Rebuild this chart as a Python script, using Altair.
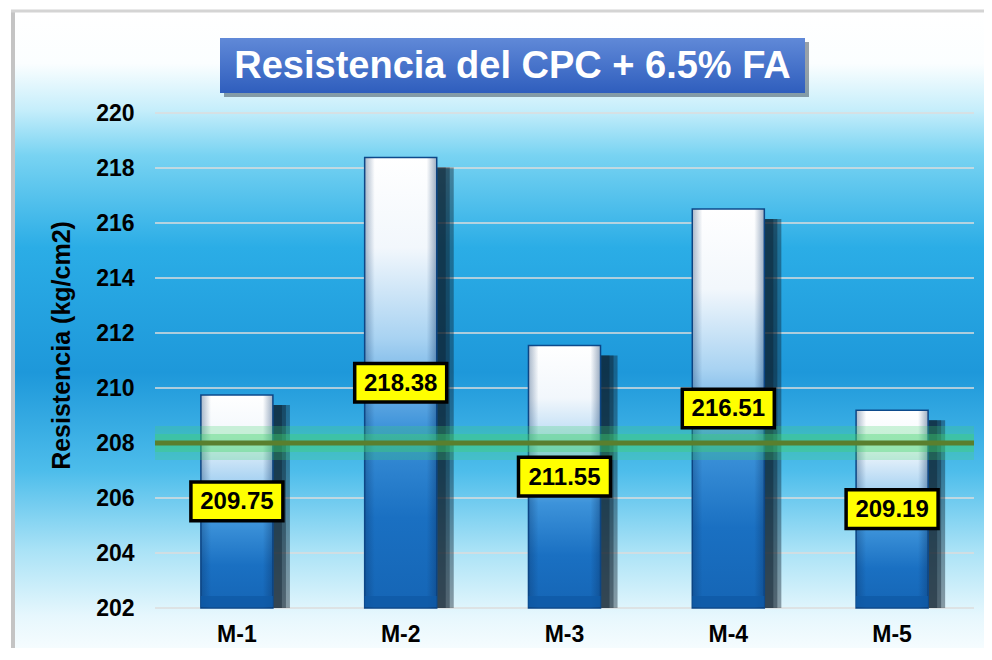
import altair as alt
import pandas as pd

# ---- data ----
categories = ["M-1", "M-2", "M-3", "M-4", "M-5"]
values = [209.75, 218.38, 211.55, 216.51, 209.19]
y_ticks = [202, 204, 206, 208, 210, 212, 214, 216, 218, 220]
reference_value = 208
y_min, y_max = 202, 220
chart_title = "Resistencia del CPC + 6.5% FA"
y_title = "Resistencia (kg/cm2)"

W, H = 819, 495
FONT = "Liberation Sans"

df = pd.DataFrame({"cat": categories, "val": values, "base": [y_min] * len(values)})
df["label"] = [f"{v:.2f}" for v in values]
grid_df = pd.DataFrame({"tick": y_ticks})
ref_df = pd.DataFrame({"ref": [reference_value]})
one = pd.DataFrame({"k": [0]})

yscale = alt.Scale(domain=[y_min, y_max], zero=False, nice=False)
yaxis = alt.Axis(
    values=y_ticks, grid=False, domain=False, ticks=False, zindex=2,
    labelFont=FONT, labelFontSize=23, labelFontWeight="bold", labelColor="#000000",
    labelPadding=21, title=y_title, titleFont=FONT, titleFontSize=25,
    titleFontWeight="bold", titleColor="#000000", titleX=-94, titleY=232,
    titleAngle=270, titleAlign="center", titleBaseline="middle",
)
xscale = alt.Scale(paddingInner=0.56, paddingOuter=0.28)
xaxis = alt.Axis(
    labelAngle=0, domain=False, ticks=False, title=None, labelFont=FONT, zindex=2,
    labelFontSize=23, labelFontWeight="bold", labelColor="#000000", labelPadding=15,
)

X = alt.X("cat:N", sort=categories, scale=xscale, axis=xaxis)

# background panel
bg_grad = {
    "gradient": "linear", "x1": 0, "y1": 0, "x2": 0, "y2": 1,
    "stops": [
        {"offset": 0.0, "color": "#ffffff"},
        {"offset": 0.08, "color": "#fbfeff"},
        {"offset": 0.15, "color": "#c6eefb"},
        {"offset": 0.22, "color": "#78d3f2"},
        {"offset": 0.36, "color": "#2bade6"},
        {"offset": 0.55, "color": "#1e98da"},
        {"offset": 0.70, "color": "#4dbdeb"},
        {"offset": 0.82, "color": "#a9e2f6"},
        {"offset": 0.92, "color": "#e6f7fd"},
        {"offset": 1.0, "color": "#ffffff"},
    ],
}
background = alt.Chart(one).mark_rect(fill=bg_grad).encode(
    x=alt.value(-143), x2=alt.value(W + 20), y=alt.value(-102), y2=alt.value(H + 60)
)
frame_left = alt.Chart(one).mark_rule(color="#c4c4c4", strokeWidth=4).encode(
    x=alt.value(-142), y=alt.value(-102), y2=alt.value(H + 60)
)
frame_top = alt.Chart(one).mark_rule(color="#d4d4d4", strokeWidth=3).encode(
    x=alt.value(-144), x2=alt.value(W + 20), y=alt.value(-102)
)

grid = alt.Chart(grid_df).mark_rule(color="#dcdcdc", strokeWidth=1.5).encode(
    y=alt.Y("tick:Q", scale=yscale, axis=yaxis)
)

# bar shadows
shadows = [
    alt.Chart(df).mark_bar(color="#0b1d2c", opacity=0.42, xOffset=off, yOffset=10, y2Offset=0).encode(
        x=X, y=alt.Y("val:Q", scale=yscale, axis=yaxis), y2="base:Q"
    )
    for off in (9, 13, 17)
]

bar_grad = {
    "gradient": "linear", "x1": 0, "y1": 0, "x2": 0, "y2": 1,
    "stops": [
        {"offset": 0.0, "color": "#ffffff"},
        {"offset": 0.2, "color": "#f2f7fc"},
        {"offset": 0.4, "color": "#a9d3f2"},
        {"offset": 0.6, "color": "#3d93da"},
        {"offset": 0.8, "color": "#1a70c2"},
        {"offset": 1.0, "color": "#1565b5"},
    ],
}
bars = alt.Chart(df).mark_bar(fill=bar_grad, stroke="#0d4a8c", strokeWidth=1.5).encode(
    x=X, y=alt.Y("val:Q", scale=yscale, axis=yaxis), y2="base:Q"
)
side_grad = {
    "gradient": "linear", "x1": 0, "y1": 0, "x2": 1, "y2": 0,
    "stops": [
        {"offset": 0.0, "color": "rgba(10,50,100,0.35)"},
        {"offset": 0.14, "color": "rgba(10,50,100,0)"},
        {"offset": 0.86, "color": "rgba(10,50,100,0)"},
        {"offset": 1.0, "color": "rgba(10,50,100,0.4)"},
    ],
}
bar_sides = alt.Chart(df).mark_bar(fill=side_grad).encode(
    x=X, y=alt.Y("val:Q", scale=yscale, axis=yaxis), y2="base:Q"
)
bar_bottom = alt.Chart(df).mark_bar(color="#0f5aa6", opacity=0.8, yOffset=-12, y2Offset=-1).encode(
    x=X, y=alt.Y("base:Q", scale=yscale, axis=yaxis), y2="base:Q"
)

glow1 = alt.Chart(ref_df).mark_rule(color="#3fd46a", strokeWidth=34, opacity=0.25).encode(
    y=alt.Y("ref:Q", scale=yscale, axis=yaxis)
)
glow2 = alt.Chart(ref_df).mark_rule(color="#3fd46a", strokeWidth=18, opacity=0.35).encode(
    y=alt.Y("ref:Q", scale=yscale, axis=yaxis)
)
ref_line = alt.Chart(ref_df).mark_rule(color="#5a7f2e", strokeWidth=5).encode(
    y=alt.Y("ref:Q", scale=yscale, axis=yaxis)
)

lab_base = alt.Chart(df).transform_calculate(mid="(datum.val + datum.base) / 2")
boxes = lab_base.mark_point(
    shape="M-1,-0.42L1,-0.42L1,0.42L-1,0.42Z", size=92 * 92, filled=True,
    fill="#ffff00", stroke="#000000", strokeWidth=3.5, opacity=1,
).encode(x=X, y=alt.Y("mid:Q", scale=yscale, axis=yaxis))
label_text = lab_base.mark_text(
    font=FONT, fontSize=24, fontWeight="bold", color="#000000", baseline="middle", dy=1
).encode(x=X, y=alt.Y("mid:Q", scale=yscale, axis=yaxis), text="label:N")

# title box
title_box_shadow = alt.Chart(one).mark_rect(color="#203040", opacity=0.45).encode(
    x=alt.value(69), x2=alt.value(654), y=alt.value(-71), y2=alt.value(-16)
)
title_grad = {
    "gradient": "linear", "x1": 0, "y1": 0, "x2": 0, "y2": 1,
    "stops": [{"offset": 0, "color": "#6089d8"}, {"offset": 1, "color": "#2f5ebd"}],
}
title_box = alt.Chart(one).mark_rect(fill=title_grad).encode(
    x=alt.value(65), x2=alt.value(650), y=alt.value(-75), y2=alt.value(-20)
)
title_text = alt.Chart(one).mark_text(
    text=chart_title, font=FONT, fontSize=38, fontWeight="bold", color="#ffffff",
    align="center", baseline="middle",
).encode(x=alt.value(357.5), y=alt.value(-46.5))

chart = alt.layer(
    background, frame_left, frame_top, grid, *shadows, bars, bar_sides, bar_bottom,
    glow1, glow2, ref_line, boxes, label_text,
    title_box_shadow, title_box, title_text,
).properties(
    width=W, height=H,
    autosize=alt.AutoSizeParams(type="none"),
    padding={"left": 147, "top": 105, "right": 10, "bottom": 40},
).configure_view(stroke=None)

chart.save("out.html", embed_options={"renderer": "svg", "actions": False})
